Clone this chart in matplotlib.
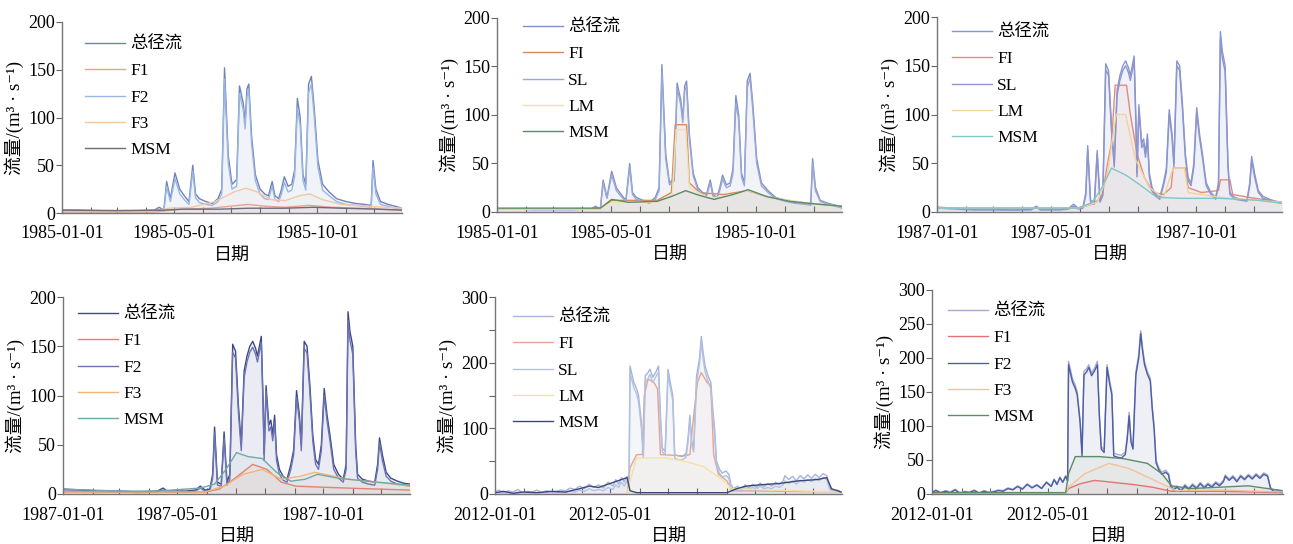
import numpy as np
import matplotlib
matplotlib.use("Agg")
import matplotlib.pyplot as plt
import matplotlib.dates as mdates

plt.rcParams['font.family'] = ['Liberation Serif', 'Noto Sans CJK SC', 'DejaVu Sans']
plt.rcParams['axes.unicode_minus'] = False

# ---------------- data (day of year, value) ----------------
D85 = [1, 20, 40, 60, 80, 100, 105, 110, 113, 117, 122, 127, 132, 137, 141, 144, 148, 155, 162, 168, 172,
       175, 179, 183, 188, 191, 195, 197, 199, 201, 204, 208, 213, 218, 222, 226, 229, 233, 236, 239, 243,
       247, 250, 253, 256, 259, 262, 265, 268, 271, 275, 280, 287, 295, 305, 315, 325, 332, 334, 337, 342,
       350, 358, 365]
T85 = [3, 3, 2.5, 2.5, 2.5, 3, 6, 3, 33, 15, 42, 25, 18, 12, 50, 20, 15, 12, 10, 15, 25,
       152, 60, 30, 35, 133, 115, 95, 130, 135, 80, 40, 25, 20, 18, 33, 18, 15, 25, 38, 28,
       30, 45, 120, 100, 40, 30, 135, 143, 110, 55, 30, 22, 15, 12, 10, 9, 8, 55, 25, 12, 9, 7, 5]
F2_85 = [2, 2, 2, 2, 2, 2, 4, 2, 28, 12, 36, 20, 14, 9, 44, 16, 11, 9, 8, 12, 20,
         140, 52, 25, 28, 125, 108, 88, 122, 128, 72, 34, 20, 15, 14, 28, 14, 12, 20, 32, 22,
         24, 38, 110, 92, 34, 24, 126, 135, 102, 48, 24, 18, 12, 9, 8, 7, 6, 48, 20, 9, 7, 5, 4]
SL85 = [3, 3, 2.5, 2.5, 2.5, 3, 5, 3, 30, 14, 38, 22, 16, 11, 46, 18, 13, 11, 9, 13, 22,
        145, 55, 28, 32, 128, 110, 92, 125, 130, 75, 37, 23, 18, 16, 30, 16, 14, 22, 34, 25,
        27, 40, 112, 95, 36, 27, 128, 138, 104, 50, 27, 20, 14, 11, 9, 8, 7, 50, 22, 11, 8, 6, 4]

F1a85_d = [1, 100, 115, 130, 160, 180, 200, 220, 240, 265, 290, 320, 365]
F1a85 = [1, 1, 3, 4, 5, 7, 9, 7, 6, 8, 6, 5, 3]
F3a85_d = [1, 100, 115, 140, 165, 185, 198, 210, 225, 240, 255, 266, 280, 300, 330, 365]
F3a85 = [2, 2, 5, 6, 12, 22, 26, 22, 14, 13, 18, 20, 14, 9, 7, 5]
MSMa85_d = [1, 60, 110, 130, 170, 200, 240, 270, 300, 340, 365]
MSMa85 = [3, 2.5, 3, 4, 4, 5, 5, 6, 5, 4, 3]

F1b85_d = [1, 110, 122, 170, 185, 189, 201, 204, 215, 240, 265, 290, 320, 365]
F1b85 = [3, 3, 12, 12, 20, 90, 90, 30, 20, 18, 22, 15, 10, 6]
LMb85_d = [1, 110, 122, 170, 186, 190, 200, 204, 225, 250, 266, 290, 330, 365]
LMb85 = [3, 3, 10, 10, 18, 85, 85, 25, 14, 18, 22, 15, 9, 6]
MSMb85_d = [1, 110, 122, 140, 170, 185, 200, 215, 230, 250, 266, 285, 310, 340, 365]
MSMb85 = [4, 4, 13, 10, 11, 16, 22, 17, 13, 18, 23, 16, 11, 8, 6]

D87 = [1, 20, 40, 60, 80, 100, 106, 110, 130, 140, 145, 150, 155, 158, 160, 163, 167, 170, 173, 176,
       179, 182, 185, 188, 191, 194, 197, 200, 203, 205, 207, 209, 211, 212, 214, 217, 219, 221, 223, 225,
       228, 232, 236, 240, 243, 246, 249, 251, 254, 257, 260, 263, 266, 269, 272, 275, 278, 281, 285, 290,
       295, 298, 300, 302, 305, 308, 310, 315, 322, 328, 331, 333, 336, 340, 345, 352, 358, 365]
T87 = [5, 4, 3, 3, 2, 3, 6, 3, 3, 4, 8, 4, 5, 20, 68, 12, 10, 63, 12, 20,
       152, 145, 90, 50, 125, 140, 150, 155, 148, 140, 150, 160, 90, 40, 110, 70, 75, 60, 80, 40,
       25, 18, 15, 30, 45, 105, 80, 50, 155, 150, 110, 60, 35, 30, 50, 107, 80, 60, 30, 20,
       15, 30, 185, 165, 150, 50, 20, 15, 13, 12, 30, 57, 40, 22, 16, 13, 11, 10]
SL87 = [4, 3, 2, 2, 2, 2, 5, 2, 2, 3, 6, 3, 4, 17, 64, 10, 8, 59, 10, 17,
        146, 140, 85, 46, 120, 135, 145, 150, 143, 135, 145, 155, 85, 36, 105, 66, 70, 56, 75, 36,
        22, 16, 13, 27, 41, 100, 76, 46, 150, 145, 105, 56, 32, 27, 46, 102, 76, 56, 27, 18,
        13, 27, 178, 158, 144, 46, 18, 13, 12, 11, 27, 53, 36, 20, 14, 12, 10, 9]
F2_87 = [3, 3, 2, 2, 1.5, 2, 4, 2, 2, 3, 6, 3, 3, 16, 62, 9, 8, 57, 9, 15,
         144, 138, 83, 44, 118, 134, 144, 149, 142, 134, 144, 154, 84, 34, 104, 64, 68, 54, 73, 34,
         20, 14, 12, 25, 40, 98, 74, 44, 148, 143, 103, 54, 30, 25, 44, 100, 74, 54, 25, 16,
         12, 25, 176, 156, 142, 44, 16, 12, 10, 9, 25, 52, 34, 18, 13, 10, 9, 8]

F1c87_d = [1, 150, 165, 175, 181, 185, 189, 201, 205, 212, 220, 229, 240, 248, 250, 263, 266, 280,
           298, 300, 310, 313, 330, 365]
F1c87 = [4, 4, 8, 15, 50, 70, 130, 130, 100, 60, 35, 20, 18, 25, 45, 45, 25, 20,
         22, 33, 33, 18, 15, 10]
LMc87_d = [1, 150, 170, 180, 190, 200, 210, 225, 240, 250, 262, 266, 300, 365]
LMc87 = [4, 4, 10, 35, 100, 100, 55, 25, 15, 45, 45, 20, 15, 10]
MSMc87_d = [1, 150, 165, 175, 185, 200, 215, 233, 260, 300, 340, 365]
MSMc87 = [4, 4, 10, 25, 45, 38, 28, 15, 14, 14, 12, 9]

F1d87_d = [1, 150, 165, 180, 200, 215, 230, 245, 270, 300, 330, 365]
F1d87 = [2, 2, 5, 15, 30, 25, 12, 8, 7, 6, 5, 4]
F3d87_d = [1, 150, 170, 190, 210, 230, 250, 265, 285, 300, 330, 365]
F3d87 = [2, 2, 8, 20, 25, 15, 18, 22, 18, 15, 12, 8]
MSMd87_d = [1, 30, 60, 100, 145, 160, 172, 183, 195, 210, 225, 240, 255, 268, 290, 320, 365]
MSMd87 = [5, 4, 3, 3, 6, 10, 25, 42, 38, 36, 22, 13, 15, 20, 16, 13, 9]

D12 = [1, 5, 10, 15, 20, 25, 30, 35, 40, 45, 50, 55, 60, 65, 70, 75,
       80, 85, 90, 95, 100, 105, 110, 115, 120, 125,
       128, 131, 134, 137, 140, 142,
       143, 147, 150, 152, 155, 157, 159, 162, 164, 167,
       170, 173, 175, 177, 180, 183, 186, 188, 190, 194,
       198, 202, 204, 206, 208, 210, 213, 216, 218, 220,
       222, 225, 228, 230, 232, 234, 237, 240, 244, 247,
       249, 252, 256, 260, 264, 268, 272, 276, 280, 284,
       288, 292, 296, 300, 304, 306, 310, 314, 318, 322,
       326, 330, 334, 338, 342, 346, 350, 353, 357, 361, 365]
T12 = [3, 6, 2, 5, 3, 7, 2, 4, 3, 6, 2, 5, 3, 4, 6, 5,
       9, 7, 12, 8, 15, 10, 14, 9, 18, 12,
       22, 15, 25, 18, 27, 20,
       195, 170, 160, 150, 110, 60, 180, 185, 190, 178,
       185, 195, 120, 70, 65, 190, 165, 150, 60, 58,
       57, 62, 85, 120, 80, 70, 180, 205, 240, 215,
       195, 180, 170, 130, 100, 50, 38, 32, 35, 30,
       15, 8, 12, 6, 14, 9, 15, 10, 17, 11,
       16, 12, 18, 14, 20, 28, 22, 27, 20, 28,
       23, 29, 24, 30, 25, 31, 28, 10, 4, 6, 3]
F2_12 = [2, 5, 2, 4, 2, 6, 1, 3, 2, 5, 1, 4, 2, 3, 5, 4,
         8, 6, 11, 7, 14, 9, 13, 8, 17, 11,
         21, 14, 24, 17, 26, 19,
         190, 165, 155, 146, 105, 56, 175, 180, 186, 174,
         181, 190, 115, 66, 61, 186, 160, 146, 56, 54,
         53, 58, 80, 115, 76, 66, 175, 200, 236, 210,
         190, 176, 166, 125, 95, 46, 35, 29, 32, 28,
         12, 6, 10, 4, 12, 7, 13, 8, 15, 9,
         14, 10, 16, 12, 18, 26, 20, 25, 18, 26,
         21, 27, 22, 28, 23, 29, 26, 8, 3, 4, 2]
SL12 = [1, 2, 1, 2, 1, 3, 1, 2, 1, 2, 1, 2, 1, 2, 3, 2,
        4, 3, 6, 4, 8, 5, 7, 5, 10, 7,
        14, 10, 18, 12, 20, 14,
        185, 162, 152, 140, 100, 55, 170, 176, 182, 170,
        178, 186, 112, 64, 60, 182, 158, 142, 55, 52,
        52, 56, 78, 112, 74, 64, 170, 196, 230, 205,
        186, 172, 160, 120, 90, 44, 32, 26, 28, 24,
        10, 5, 8, 4, 10, 6, 10, 7, 12, 8,
        10, 8, 12, 10, 14, 20, 16, 20, 15, 21,
        18, 22, 19, 24, 20, 25, 22, 7, 3, 4, 2]

F1e12_d = [1, 140, 143, 150, 156, 158, 162, 168, 172, 175, 200, 206, 210, 214, 218, 224, 228, 231,
           236, 245, 250, 365]
F1e12 = [0, 0, 40, 60, 60, 150, 175, 170, 160, 60, 58, 60, 120, 170, 185, 170, 165, 60,
         30, 20, 5, 3]
LMe12_d = [1, 140, 143, 150, 180, 200, 220, 240, 250, 365]
LMe12 = [0, 0, 20, 55, 55, 50, 42, 22, 8, 3]
MSMe12_d = [1, 10, 20, 30, 45, 60, 75, 90, 100, 110, 120, 130, 140, 143, 150, 200, 245, 255, 265,
            280, 300, 320, 340, 350, 355, 365]
MSMe12 = [2, 4, 1, 3, 2, 4, 3, 8, 12, 10, 15, 20, 25, 5, 2, 2, 2, 8, 12,
          14, 16, 20, 22, 25, 8, 3]

F1f12_d = [1, 140, 143, 155, 170, 190, 210, 230, 250, 300, 365]
F1f12 = [1, 1, 8, 15, 20, 17, 14, 10, 4, 4, 2]
F3f12_d = [1, 140, 143, 160, 185, 205, 225, 240, 255, 300, 365]
F3f12 = [1, 1, 10, 30, 45, 38, 25, 15, 5, 6, 3]
MSMf12_d = [1, 140, 143, 150, 175, 200, 225, 240, 250, 270, 300, 330, 365]
MSMf12 = [2, 2, 30, 55, 55, 52, 45, 30, 12, 8, 10, 12, 5]

LABEL_TOTAL = '总径流'
XTICK_MONTHS = ['01-01', '05-01', '10-01']
YLABEL = '流量/(m³ · s⁻¹)'
XLABEL = '日期'

# ---------------- panels ----------------
# pos: axes box in pixels (left, top, right, bottom); leg: (handle start x, first entry centre y)
panels = [
    dict(year=1985, pos=[62, 22, 402, 213], leg=(85, 42), ymax=200, ystep=50, ylab_step=50,
         series=[(LABEL_TOTAL, D85, T85, '#6f83b8'),
                 ('F1', F1a85_d, F1a85, '#e7a293'),
                 ('F2', D85, F2_85, '#9bb6e3'),
                 ('F3', F3a85_d, F3a85, '#f1c9a0'),
                 ('MSM', MSMa85_d, MSMa85, '#6b6b7a')]),
    dict(year=1985, pos=[497, 18, 842, 212], leg=(523, 25), ymax=200, ystep=50, ylab_step=50,
         series=[(LABEL_TOTAL, D85, T85, '#7f90c4'),
                 ('FI', F1b85_d, F1b85, '#d98a5e'),
                 ('SL', D85, SL85, '#9aa8d6'),
                 ('LM', LMb85_d, LMb85, '#efe2b0'),
                 ('MSM', MSMb85_d, MSMb85, '#5b8a6a')]),
    dict(year=1987, pos=[937, 17, 1282, 212], leg=(952, 30), ymax=200, ystep=50, ylab_step=50,
         series=[(LABEL_TOTAL, D87, T87, '#8597d2'),
                 ('FI', F1c87_d, F1c87, '#e48a78'),
                 ('SL', D87, SL87, '#8f95cc'),
                 ('LM', LMc87_d, LMc87, '#f0d59a'),
                 ('MSM', MSMc87_d, MSMc87, '#7cc6cc')]),
    dict(year=1987, pos=[63, 297, 410, 494], leg=(78, 312), ymax=200, ystep=50, ylab_step=50,
         series=[(LABEL_TOTAL, D87, T87, '#3e4a85'),
                 ('F1', F1d87_d, F1d87, '#e28272'),
                 ('F2', D87, F2_87, '#6d74b6'),
                 ('F3', F3d87_d, F3d87, '#f2b676'),
                 ('MSM', MSMd87_d, MSMd87, '#6fa9a8')]),
    dict(year=2012, pos=[495, 297, 842, 494], leg=(513, 315), ymax=300, ystep=50, ylab_step=100,
         series=[(LABEL_TOTAL, D12, T12, '#a7b5dc'),
                 ('FI', F1e12_d, F1e12, '#e6a493'),
                 ('SL', D12, SL12, '#b3c2e0'),
                 ('LM', LMe12_d, LMe12, '#f1e3a6'),
                 ('MSM', MSMe12_d, MSMe12, '#3c4878')]),
    dict(year=2012, pos=[932, 290, 1283, 494], leg=(948, 309), ymax=300, ystep=50, ylab_step=50,
         series=[(LABEL_TOTAL, D12, T12, '#a3aad2'),
                 ('F1', F1f12_d, F1f12, '#e37275'),
                 ('F2', D12, F2_12, '#4f5ea3'),
                 ('F3', F3f12_d, F3f12, '#f2c396'),
                 ('MSM', MSMf12_d, MSMf12, '#5d8c66')]),
]

W, H = 1293, 544
fig = plt.figure(figsize=(W / 100, H / 100), dpi=100)


def to_dates(year, days):
    return np.datetime64(f'{year}-01-01') + np.array(days, dtype=int) - 1


for p in panels:
    x0, y0, x1, y1 = p['pos']
    ax = fig.add_axes([x0 / W, 1 - y1 / H, (x1 - x0) / W, (y1 - y0) / H])
    yr = p['year']
    for name, d, v, c in p['series']:
        xd = to_dates(yr, d)
        ax.fill_between(xd, 0, v, color=c, alpha=0.06, lw=0)
        ax.plot(xd, v, color=c, lw=1.0, label=name)
    ax.set_xlim(np.datetime64(f'{yr}-01-01'), np.datetime64(f'{yr}-12-31'))
    ax.set_ylim(0, p['ymax'])
    yt = np.arange(0, p['ymax'] + 1, p['ystep'])
    ax.set_yticks(yt)
    ax.set_yticklabels([str(int(t)) if t % p['ylab_step'] == 0 else '' for t in yt])
    ax.set_xticks([np.datetime64(f'{yr}-{m}') for m in XTICK_MONTHS])
    ax.set_xticklabels([f'{yr}-{m}' for m in XTICK_MONTHS])
    ax.xaxis.set_minor_locator(mdates.MonthLocator())
    ax.tick_params(axis='x', which='both', direction='in', length=4, width=0.8,
                   color='#666666', labelsize=13, pad=9)
    ax.tick_params(axis='y', which='both', direction='out', length=4, width=0.8,
                   color='#666666', labelsize=13, pad=1)
    for s in ['top', 'right']:
        ax.spines[s].set_visible(False)
    for s in ['left', 'bottom']:
        ax.spines[s].set_color('#777777')
        ax.spines[s].set_linewidth(1.0)
    ax.set_ylabel(YLABEL, fontsize=13.5, labelpad=3)
    ax.set_xlabel(XLABEL, fontsize=13, labelpad=4)
    lx, ly = p['leg']
    ax_x = (lx - x0) / (x1 - x0)
    ax_y = (y1 - (ly - 5)) / (y1 - y0)
    ax.legend(loc='upper left', bbox_to_anchor=(ax_x, ax_y), frameon=False,
              fontsize=12.5, handlelength=2.3, handletextpad=0.3,
              labelspacing=0.58, borderaxespad=0.0, borderpad=0.0)

fig.savefig('out.png', dpi=100)
